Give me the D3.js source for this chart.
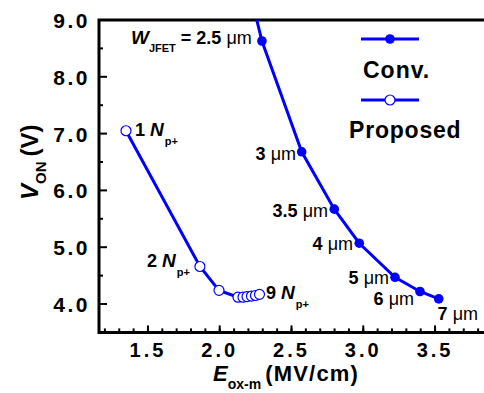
<!DOCTYPE html>
<html>
<head>
<meta charset="utf-8">
<script src="https://cdn.jsdelivr.net/npm/d3@7"></script>
<style>
  html, body { margin: 0; padding: 0; background: #fff; }
  svg { display: block; }
  text { font-family: "Liberation Sans", Arial, sans-serif; font-weight: bold; fill: #000; }
</style>
</head>
<body>
<svg id="chart" width="484" height="393"></svg>
<script>
// Conventional device: on-voltage vs. peak oxide field for JFET widths
const convWidths = [null, 2.5, 3, 3.5, 4, 5, 6, 7];
const convField  = [2.21, 2.294, 2.571, 2.798, 2.972, 3.221, 3.395, 3.526];
const convVon    = [9.5, 8.63, 6.68, 5.67, 5.07, 4.47, 4.22, 4.09];

// Proposed device: 1 … 9 p+ regions
const propCount = [1, 2, 3, 4, 5, 6, 7, 8, 9];
const propField = [1.347, 1.862, 1.995, 2.127, 2.162, 2.190, 2.221, 2.249, 2.277];
const propVon   = [7.05, 4.66, 4.24, 4.12, 4.12, 4.13, 4.14, 4.15, 4.17];

const xTicks = [1.5, 2.0, 2.5, 3.0, 3.5];
const yTicks = [4.0, 5.0, 6.0, 7.0, 8.0, 9.0];

const BLUE = "#0000ff";
const svg = d3.select("#chart");
const L = 99, R = 484, T = 20, B = 332.4;

const x = d3.scaleLinear().domain([1.159, 3.841]).range([L, R]);
const y = d3.scaleLinear().domain([3.5, 9.0]).range([B, T]);

svg.append("defs").append("clipPath").attr("id", "plotClip")
  .append("rect").attr("x", L).attr("y", T).attr("width", R - L).attr("height", B - T);

// minor + major ticks, pointing inward
const xMinor = d3.range(1.2, 3.85, 0.1).map(v => +v.toFixed(1));
const yMinor = d3.range(4.5, 9.0, 1.0);

const axisG = svg.append("g");
axisG.selectAll(".xm").data(xMinor).join("line")
  .attr("x1", d => x(d)).attr("x2", d => x(d))
  .attr("y1", B).attr("y2", B - 4)
  .attr("stroke", "#000").attr("stroke-width", 2);
axisG.selectAll(".xM").data(xTicks).join("line")
  .attr("x1", d => x(d)).attr("x2", d => x(d))
  .attr("y1", B).attr("y2", B - 7)
  .attr("stroke", "#000").attr("stroke-width", 2);
axisG.selectAll(".ym").data(yMinor).join("line")
  .attr("x1", L).attr("x2", L + 4)
  .attr("y1", d => y(d)).attr("y2", d => y(d))
  .attr("stroke", "#000").attr("stroke-width", 2);
axisG.selectAll(".yM").data(yTicks).join("line")
  .attr("x1", L).attr("x2", L + 8)
  .attr("y1", d => y(d)).attr("y2", d => y(d))
  .attr("stroke", "#000").attr("stroke-width", 2);

// frame: left, bottom, top
axisG.append("path")
  .attr("d", `M${R},${T}H${L}V${B}H${R}`)
  .attr("fill", "none").attr("stroke", "#000").attr("stroke-width", 3);

// tick labels
svg.selectAll(".xl").data(xTicks).join("text")
  .attr("x", d => x(d)).attr("y", 357)
  .attr("text-anchor", "middle")
  .style("font-size", "20px").style("letter-spacing", "3px")
  .text(d => d.toFixed(1));
svg.selectAll(".yl").data(yTicks).join("text")
  .attr("x", 90).attr("y", d => y(d) + 8)
  .attr("text-anchor", "end")
  .style("font-size", "21px").style("letter-spacing", "2.5px")
  .text(d => d.toFixed(1));

// axis titles
const xt = svg.append("text").attr("x", 213).attr("y", 381).style("font-size", "22px");
xt.append("tspan").style("font-style", "italic").style("font-size", "22px").text("E");
xt.append("tspan").attr("dy", 8).style("font-size", "14px").text("ox-m");
xt.append("tspan").attr("dy", -8).attr("dx", 4).style("letter-spacing", "1.2px").text("(MV/cm)");

const yt = svg.append("text").attr("transform", "translate(38,200) rotate(-90)").style("font-size", "24px");
yt.append("tspan").style("font-style", "italic").text("V");
yt.append("tspan").attr("dy", 8).style("font-size", "15px").text("ON");
yt.append("tspan").attr("dy", -8).attr("dx", 5).text("(V)");

// data lines and markers
const plot = svg.append("g").attr("clip-path", "url(#plotClip)");
const line = d3.line().x(d => x(d[0])).y(d => y(d[1]));

const convPts = convField.map((v, i) => [v, convVon[i]]);
const propPts = propField.map((v, i) => [v, propVon[i]]);

plot.append("path").datum(convPts).attr("d", line)
  .attr("fill", "none").attr("stroke", BLUE).attr("stroke-width", 3);
plot.append("path").datum(propPts).attr("d", line)
  .attr("fill", "none").attr("stroke", BLUE).attr("stroke-width", 3);

plot.selectAll(".cp").data(convPts).join("circle")
  .attr("cx", d => x(d[0])).attr("cy", d => y(d[1])).attr("r", 4.8)
  .attr("fill", BLUE);
plot.selectAll(".pp").data(propPts).join("circle")
  .attr("cx", d => x(d[0])).attr("cy", d => y(d[1])).attr("r", 5)
  .attr("fill", "#fff").attr("stroke", BLUE).attr("stroke-width", 1.2);

// point labels
function umLabel(txt, xx, yy, size) {
  const t = svg.append("text").attr("x", xx).attr("y", yy).attr("text-anchor", "end").style("font-size", size + "px");
  t.append("tspan").text(txt + " ");
  t.append("tspan").style("font-weight", "normal").text("\u03bcm");
  return t;
}
const wl = svg.append("text").attr("x", 131).attr("y", 44).style("font-size", "18px");
wl.append("tspan").style("font-style", "italic").style("font-size", "19px").text("W");
wl.append("tspan").attr("dy", 8).style("font-size", "11px").text("JFET");
wl.append("tspan").attr("dy", -8).attr("dx", 5).text("= " + convWidths[1] + " ");
wl.append("tspan").style("font-weight", "normal").text("\u03bcm");

umLabel(convWidths[2], 296, 160, 18);
umLabel(convWidths[3], 328, 217, 18);
umLabel(convWidths[4], 353, 250, 18);
umLabel(convWidths[5], 389, 284, 18);
umLabel(convWidths[6], 414, 305, 18);
umLabel(convWidths[7], 478, 320, 18);

function npLabel(n, xx, yy) {
  const t = svg.append("text").attr("x", xx).attr("y", yy).style("font-size", "18px");
  t.append("tspan").text(n + " ");
  t.append("tspan").style("font-style", "italic").style("font-size", "19px").text("N");
  t.append("tspan").attr("dy", 9).attr("dx", 1).style("font-size", "11px").text("p+");
}
npLabel(propCount[0], 135, 136);
npLabel(propCount[1], 147, 267);
npLabel(propCount[8], 266, 299);

// legend
const lg = svg.append("g");
lg.append("line").attr("x1", 361).attr("x2", 419).attr("y1", 39).attr("y2", 39)
  .attr("stroke", BLUE).attr("stroke-width", 3);
lg.append("circle").attr("cx", 390).attr("cy", 39).attr("r", 4.8).attr("fill", BLUE);
lg.append("text").attr("x", 363).attr("y", 78).style("font-size", "23px").style("letter-spacing", "1px").text("Conv.");
lg.append("line").attr("x1", 361).attr("x2", 419).attr("y1", 100).attr("y2", 100)
  .attr("stroke", BLUE).attr("stroke-width", 3);
lg.append("circle").attr("cx", 390).attr("cy", 100).attr("r", 5)
  .attr("fill", "#fff").attr("stroke", BLUE).attr("stroke-width", 1.2);
lg.append("text").attr("x", 349).attr("y", 138).style("font-size", "23px").style("letter-spacing", "0.8px").text("Proposed");
</script>
</body>
</html>
